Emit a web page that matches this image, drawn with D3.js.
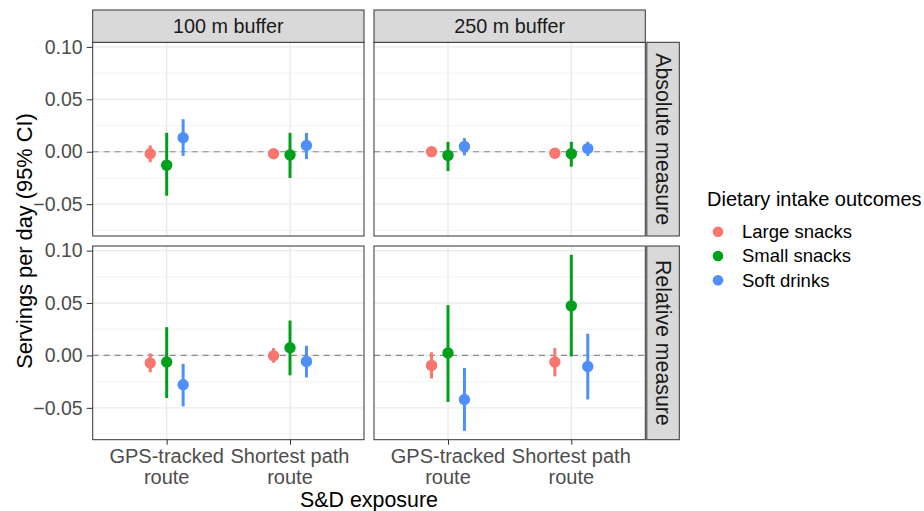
<!DOCTYPE html>
<meta charset="utf-8">
<style>
  body { margin: 0; background: #fff; }
  text { font-family: "Liberation Sans", Arial, sans-serif; }
</style>
<body>
<div id="chart"></div>
<script src="https://cdn.jsdelivr.net/npm/d3@7"></script>
<script>

// facets, categories, series
var buffers = ["100 m buffer", "250 m buffer"];
var measures = ["Absolute measure", "Relative measure"];
var routes = ["GPS-tracked route", "Shortest path route"];
var outcomes = ["Large snacks", "Small snacks", "Soft drinks"];
var colors = ["#F8766D", "#00A01A", "#4E90FA"];

// each array: abs 100m (GPS, SP), abs 250m (GPS, SP), rel 100m (GPS, SP), rel 250m (GPS, SP)
var largeEst = [-0.002, -0.002, 0.000, -0.0015, -0.0073, -0.0003, -0.0095, -0.0063];
var largeLo  = [-0.010, -0.006, -0.002, -0.0035, -0.016, -0.007, -0.022, -0.020];
var largeHi  = [0.006, 0.002, 0.002, 0.0005, 0.002, 0.007, 0.003, 0.007];

var smallEst = [-0.0128, -0.003, -0.0035, -0.002, -0.0063, 0.0073, 0.0023, 0.0473];
var smallLo  = [-0.042, -0.025, -0.0185, -0.0143, -0.0406, -0.019, -0.0444, -0.001];
var smallHi  = [0.018, 0.018, 0.0095, 0.0095, 0.027, 0.0333, 0.048, 0.096];

var softEst = [0.0134, 0.006, 0.005, 0.003, -0.028, -0.0057, -0.042, -0.0105];
var softLo  = [-0.004, -0.007, -0.0035, -0.004, -0.0486, -0.021, -0.072, -0.042];
var softHi  = [0.031, 0.018, 0.013, 0.0095, -0.008, 0.0092, -0.012, 0.0207];

var yTicks = [-0.05, 0, 0.05, 0.10];
var yMinor = [-0.075, -0.025, 0.025, 0.075];

var width = 924, height = 511;
var panelLeft = 92.7, panelW = 271.3, gapX = 10;
var panelTop = 42.3, panelH = 193.7, gapY = 10;
var stripH = 32.3, stripW = 32.5;

var series = [
  {name: outcomes[0], est: largeEst, lo: largeLo, hi: largeHi, color: colors[0]},
  {name: outcomes[1], est: smallEst, lo: smallLo, hi: smallHi, color: colors[1]},
  {name: outcomes[2], est: softEst, lo: softLo, hi: softHi, color: colors[2]}
];

// flatten to rows
var rows = [];
series.forEach(function(s) {
  s.est.forEach(function(v, i) {
    rows.push({
      outcome: s.name, color: s.color,
      measure: measures[Math.floor(i / 4)],
      buffer: buffers[Math.floor(i / 2) % 2],
      route: routes[i % 2],
      est: v, lo: s.lo[i], hi: s.hi[i]
    });
  });
});

var svg = d3.select("#chart").append("svg")
    .attr("width", width)
    .attr("height", height);

// fixed y scale with ggplot-like 5% expansion
var lo = d3.min(rows, function(d) { return d.lo; }),
    hi = d3.max(rows, function(d) { return d.hi; }),
    pad = (hi - lo) * 0.05;

var y = d3.scaleLinear().domain([lo - pad, hi + pad]).range([panelH, 0]);
var x = d3.scalePoint().domain(routes).range([0, panelW]).padding(0.6);
var dodge = d3.scalePoint().domain(outcomes)
    .range([-0.4 / 3 * x.step(), 0.4 / 3 * x.step()]);

measures.forEach(function(m, r) {
  buffers.forEach(function(b, c) {
    var px = panelLeft + c * (panelW + gapX),
        py = panelTop + r * (panelH + gapY);
    var g = svg.append("g").attr("transform", "translate(" + px + "," + py + ")");

    g.append("rect").attr("width", panelW).attr("height", panelH).attr("fill", "#fff");

    // grid
    g.selectAll(".minor").data(yMinor).enter().append("line")
        .attr("x1", 0).attr("x2", panelW)
        .attr("y1", y).attr("y2", y)
        .attr("stroke", "#F0F0F0").attr("stroke-width", 0.8);
    g.selectAll(".major").data(yTicks).enter().append("line")
        .attr("x1", 0).attr("x2", panelW)
        .attr("y1", y).attr("y2", y)
        .attr("stroke", "#EBEBEB").attr("stroke-width", 1.4);
    g.selectAll(".vgrid").data(routes).enter().append("line")
        .attr("x1", x).attr("x2", x)
        .attr("y1", 0).attr("y2", panelH)
        .attr("stroke", "#EBEBEB").attr("stroke-width", 1.4);

    // zero reference
    g.append("line")
        .attr("x1", 0).attr("x2", panelW)
        .attr("y1", y(0)).attr("y2", y(0))
        .attr("stroke", "#8C8C8C").attr("stroke-width", 1.2)
        .attr("stroke-dasharray", "6,5");

    var d = rows.filter(function(e) { return e.measure === m && e.buffer === b; });

    g.selectAll(".ci").data(d).enter().append("line")
        .attr("x1", function(e) { return x(e.route) + dodge(e.outcome); })
        .attr("x2", function(e) { return x(e.route) + dodge(e.outcome); })
        .attr("y1", function(e) { return y(e.lo); })
        .attr("y2", function(e) { return y(e.hi); })
        .attr("stroke", function(e) { return e.color; })
        .attr("stroke-width", 3);

    g.selectAll(".pt").data(d).enter().append("circle")
        .attr("cx", function(e) { return x(e.route) + dodge(e.outcome); })
        .attr("cy", function(e) { return y(e.est); })
        .attr("r", 5.7)
        .attr("fill", function(e) { return e.color; });

    g.append("rect").attr("width", panelW).attr("height", panelH)
        .attr("fill", "none").attr("stroke", "#333").attr("stroke-width", 1);

    // y axis on left column
    if (c === 0) {
      var ya = g.append("g").call(d3.axisLeft(y).tickValues(yTicks)
          .tickFormat(d3.format(".2f")).tickSize(6).tickPadding(4));
      ya.select(".domain").remove();
      ya.selectAll("line").attr("stroke", "#333");
      ya.selectAll("text").attr("fill", "#4D4D4D")
          .style("font-size", "19.5px").style("font-family", "Liberation Sans, Arial");
    }

    // x axis on bottom row
    if (r === measures.length - 1) {
      var xa = g.append("g").attr("transform", "translate(0," + panelH + ")")
          .call(d3.axisBottom(x).tickSize(5).tickFormat(""));
      xa.select(".domain").remove();
      xa.selectAll("line").attr("stroke", "#333");
      routes.forEach(function(rt) {
        var words = rt.split(" ");
        var first = words.slice(0, -1).join(" "), last = words[words.length - 1];
        var t = g.append("text")
            .attr("x", x(rt)).attr("y", panelH + 23)
            .attr("text-anchor", "middle")
            .attr("fill", "#4D4D4D")
            .style("font-size", "20px");
        t.append("tspan").attr("x", x(rt)).text(first);
        t.append("tspan").attr("x", x(rt)).attr("dy", 21.5).text(last);
      });
    }

    // top strip
    if (r === 0) {
      svg.append("rect")
          .attr("x", px).attr("y", panelTop - stripH)
          .attr("width", panelW).attr("height", stripH)
          .attr("fill", "#D9D9D9").attr("stroke", "#333").attr("stroke-width", 1);
      svg.append("text")
          .attr("x", px + panelW / 2).attr("y", panelTop - stripH / 2)
          .attr("dy", "0.35em").attr("text-anchor", "middle")
          .attr("fill", "#1A1A1A").style("font-size", "19.8px")
          .text(b);
    }

    // right strip
    if (c === buffers.length - 1) {
      var sx = px + panelW + 1.5;
      svg.append("rect")
          .attr("x", sx).attr("y", py)
          .attr("width", stripW).attr("height", panelH)
          .attr("fill", "#D9D9D9").attr("stroke", "#333").attr("stroke-width", 1);
      svg.append("text")
          .attr("transform", "translate(" + (sx + stripW / 2) + "," + (py + panelH / 2) + ") rotate(90)")
          .attr("dy", "0.35em").attr("text-anchor", "middle")
          .attr("fill", "#1A1A1A").style("font-size", "21.3px")
          .text(m);
    }
  });
});

// axis titles
var plotBottom = panelTop + 2 * panelH + gapY;
svg.append("text")
    .attr("x", panelLeft + panelW + gapX / 2)
    .attr("y", 507)
    .attr("text-anchor", "middle")
    .style("font-size", "21.4px")
    .text("S&D exposure");

svg.append("text")
    .attr("transform", "translate(32," + (panelTop + plotBottom) / 2 + ") rotate(-90)")
    .attr("text-anchor", "middle")
    .style("font-size", "21.8px")
    .text("Servings per day (95% CI)");

// legend
var legend = svg.append("g").attr("transform", "translate(707,0)");
legend.append("text")
    .attr("x", 0).attr("y", 206)
    .style("font-size", "20px")
    .text("Dietary intake outcomes");

var item = legend.selectAll(".item").data(series).enter().append("g")
    .attr("transform", function(d, i) { return "translate(0," + (231.7 + i * 24.3) + ")"; });
item.append("circle").attr("cx", 11).attr("r", 5.3)
    .attr("fill", function(d) { return d.color; });
item.append("text").attr("x", 35).attr("dy", "0.35em")
    .style("font-size", "18.5px")
    .text(function(d) { return d.name; });

</script>
</body>
